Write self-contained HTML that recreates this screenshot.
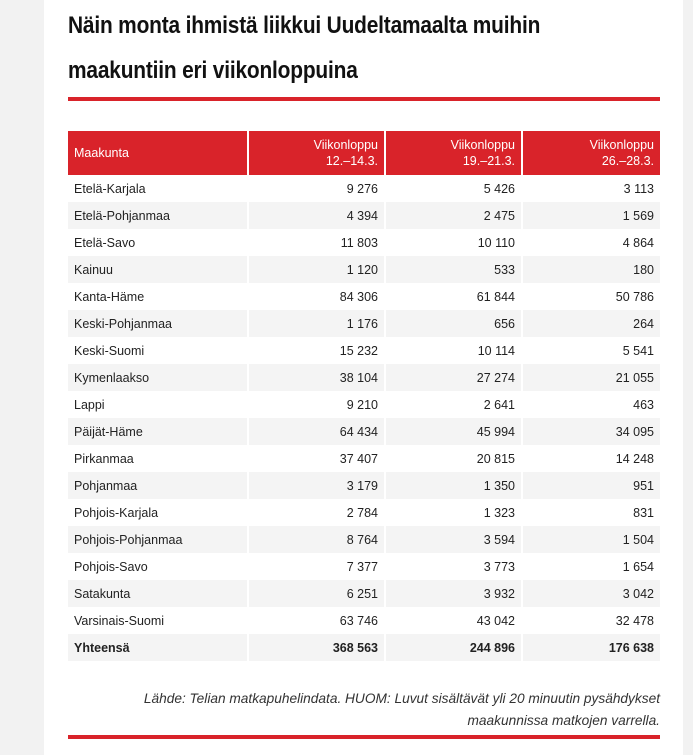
<!DOCTYPE html>
<html><head><meta charset="utf-8"><style>
body{margin:0;width:693px;height:755px;background:#f2f2f2;font-family:"Liberation Sans",sans-serif;overflow:hidden;position:relative}
.panel{position:absolute;left:44px;top:0;width:639px;height:755px;background:#fff}
h1{position:absolute;left:68px;top:3px;margin:0;font-size:24px;font-weight:bold;color:#111;line-height:45px;transform:scaleX(0.87);transform-origin:left top;white-space:nowrap;letter-spacing:-0.2px}
.rl{position:absolute;left:68px;width:592px;height:4px;background:#d9232a}
table{position:absolute;left:68px;top:131px;width:592px;border-collapse:collapse;font-size:12.5px;color:#222;table-layout:fixed}
td,th{padding:0 6px;height:27px;border-left:2px solid #fff}
td:first-child,th:first-child{border-left:none;text-align:left}
th{background:#d9232a;color:#fff;font-weight:normal;height:44px;text-align:right;line-height:16px;font-size:12.5px}
td{text-align:right}
tr:nth-child(odd) td{background:#f4f4f4}
.tot td{font-weight:bold;background:#f4f4f4!important}
.src{position:absolute;right:33px;top:688px;text-align:right;font-style:italic;font-size:13.7px;line-height:22px;color:#333;white-space:nowrap}
</style></head><body>
<div class="panel"></div>
<h1>Näin monta ihmistä liikkui Uudeltamaalta muihin<br>maakuntiin eri viikonloppuina</h1>
<div class="rl" style="top:97px"></div>
<table>
<colgroup><col style="width:180px"><col style="width:137px"><col style="width:137px"><col style="width:138px"></colgroup>
<tr><th>Maakunta</th><th>Viikonloppu<br>12.–14.3.</th><th>Viikonloppu<br>19.–21.3.</th><th>Viikonloppu<br>26.–28.3.</th></tr>
<tr><td>Etelä-Karjala</td><td>9 276</td><td>5 426</td><td>3 113</td></tr>
<tr><td>Etelä-Pohjanmaa</td><td>4 394</td><td>2 475</td><td>1 569</td></tr>
<tr><td>Etelä-Savo</td><td>11 803</td><td>10 110</td><td>4 864</td></tr>
<tr><td>Kainuu</td><td>1 120</td><td>533</td><td>180</td></tr>
<tr><td>Kanta-Häme</td><td>84 306</td><td>61 844</td><td>50 786</td></tr>
<tr><td>Keski-Pohjanmaa</td><td>1 176</td><td>656</td><td>264</td></tr>
<tr><td>Keski-Suomi</td><td>15 232</td><td>10 114</td><td>5 541</td></tr>
<tr><td>Kymenlaakso</td><td>38 104</td><td>27 274</td><td>21 055</td></tr>
<tr><td>Lappi</td><td>9 210</td><td>2 641</td><td>463</td></tr>
<tr><td>Päijät-Häme</td><td>64 434</td><td>45 994</td><td>34 095</td></tr>
<tr><td>Pirkanmaa</td><td>37 407</td><td>20 815</td><td>14 248</td></tr>
<tr><td>Pohjanmaa</td><td>3 179</td><td>1 350</td><td>951</td></tr>
<tr><td>Pohjois-Karjala</td><td>2 784</td><td>1 323</td><td>831</td></tr>
<tr><td>Pohjois-Pohjanmaa</td><td>8 764</td><td>3 594</td><td>1 504</td></tr>
<tr><td>Pohjois-Savo</td><td>7 377</td><td>3 773</td><td>1 654</td></tr>
<tr><td>Satakunta</td><td>6 251</td><td>3 932</td><td>3 042</td></tr>
<tr><td>Varsinais-Suomi</td><td>63 746</td><td>43 042</td><td>32 478</td></tr>
<tr class="tot"><td>Yhteensä</td><td>368 563</td><td>244 896</td><td>176 638</td></tr>
</table>
<div class="src">Lähde: Telian matkapuhelindata. HUOM: Luvut sisältävät yli 20 minuutin pysähdykset<br>maakunnissa matkojen varrella.</div>
<div class="rl" style="top:735px"></div>
</body></html>
